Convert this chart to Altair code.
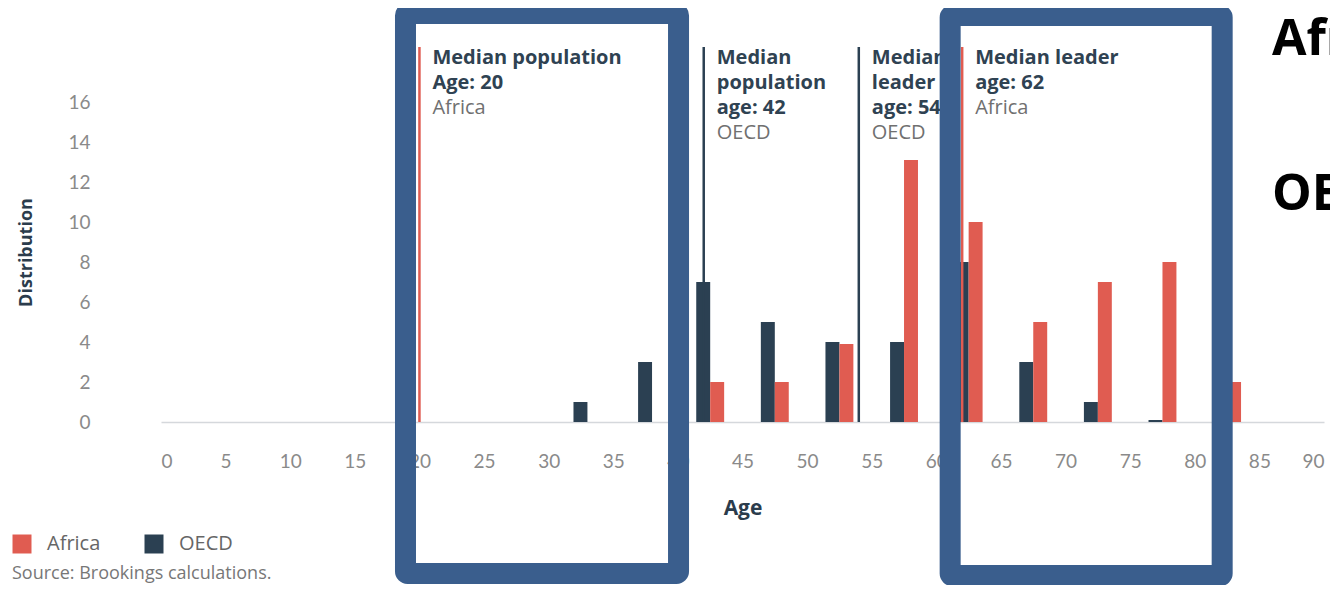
import altair as alt
import pandas as pd

# ---- data ----
bin_centres = [33.0, 38.0, 42.5, 47.5, 52.5, 57.5, 62.5, 67.5, 72.5, 77.5, 82.5]
oecd_values = [1, 3, 7, 5, 4, 4, 8, 3, 1, 0.1, 0]
africa_values = [0, 0, 2, 2, 3.9, 13.1, 10, 5, 7, 8, 2]

median_ages = [20, 42, 54, 62]
median_groups = ["Africa", "OECD", "OECD", "Africa"]
median_titles = [
    ["Median population", "Age: 20"],
    ["Median", "population", "age: 42"],
    ["Median", "leader", "age: 54"],
    ["Median leader", "age: 62"],
]

x_ticks = list(range(0, 95, 5))
y_ticks = list(range(0, 18, 2))

# highlight boxes (age / distribution units)
box_x1 = [18.92, 61.07]
box_x2 = [40.05, 82.12]
box_y1 = [-7.57, -7.68]
box_y2 = [20.43, 20.33]

AFRICA = "#e05c51"
OECD = "#2b4052"
BOX = "#3a5e8d"
FONT = "Open Sans"
TICKFONT = "Lato"

BAR_W = 1.08
rows = []
for c, o, a in zip(bin_centres, oecd_values, africa_values):
    rows.append({"group": "OECD", "x": c - BAR_W, "x2": c, "v": o})
    rows.append({"group": "Africa", "x": c, "x2": c + BAR_W, "v": a})
bars_df = pd.DataFrame(rows)

med_df = pd.DataFrame({"age": median_ages, "group": median_groups,
                       "top": [18.75] * 4, "bottom": [0] * 4})

LINE_TOP = 18.2
LINE_STEP = 1.25
txt_rows = []
for age, grp, lines in zip(median_ages, median_groups, median_titles):
    for i, t in enumerate(lines):
        txt_rows.append({"age": age, "y": LINE_TOP - i * LINE_STEP, "text": t, "kind": "bold"})
    txt_rows.append({"age": age, "y": LINE_TOP - len(lines) * LINE_STEP, "text": grp, "kind": "reg"})
txt_df = pd.DataFrame(txt_rows)

box_df = pd.DataFrame({"x1": box_x1, "x2": box_x2, "y1": box_y1, "y2": box_y2})

xscale = alt.Scale(domain=[0, 90], nice=False)
yscale = alt.Scale(domain=[0, 19], nice=False)
cscale = alt.Scale(domain=["Africa", "OECD"], range=[AFRICA, OECD])

bars = alt.Chart(bars_df).mark_bar().encode(
    x=alt.X("x:Q", scale=xscale, title="Age",
            axis=alt.Axis(values=x_ticks, grid=False, ticks=False, domain=True,
                          domainColor="#d5d8dc", domainWidth=1.5,
                          labelFont=TICKFONT, labelFontSize=19, labelColor="#8a8a8a",
                          labelPadding=30, titleFont=FONT, titleFontSize=21,
                          titleFontWeight="bold", titleColor="#2b3c4c", titlePadding=26)),
    x2="x2:Q",
    y=alt.Y("v:Q", scale=yscale, title="Distribution",
            axis=alt.Axis(values=y_ticks, grid=False, ticks=False, domain=False,
                          labelFont=TICKFONT, labelFontSize=19, labelColor="#8a8a8a",
                          labelPadding=71, titleFont=FONT, titleFontSize=18,
                          titleFontWeight="bold", titleColor="#2b3c4c",
                          titleX=-135, titleY=210, titleAngle=-90,
                          titleAlign="center", titleBaseline="middle")),
    y2=alt.datum(0),
    color=alt.Color("group:N", scale=cscale,
                    legend=alt.Legend(title=None, orient="none", legendX=-149, legendY=492,
                                      direction="horizontal", symbolType="square",
                                      symbolSize=361, symbolStrokeWidth=0,
                                      labelFont=FONT, labelFontSize=20, labelColor="#666666",
                                      labelOffset=15, columnPadding=43, padding=0)),
)

rules = alt.Chart(med_df).mark_rule(strokeWidth=2.5).encode(
    x=alt.X("age:Q", scale=xscale),
    y=alt.Y("top:Q", scale=yscale),
    y2="bottom:Q",
    color=alt.Color("group:N", scale=cscale, legend=None),
)

bold_txt = alt.Chart(txt_df).transform_filter(alt.datum.kind == "bold").mark_text(
    align="left", baseline="middle", dx=13, font=FONT, fontSize=20, fontWeight="bold",
    color="#2f4252"
).encode(x=alt.X("age:Q", scale=xscale), y=alt.Y("y:Q", scale=yscale), text="text:N")

reg_txt = alt.Chart(txt_df).transform_filter(alt.datum.kind == "reg").mark_text(
    align="left", baseline="middle", dx=13, font=FONT, fontSize=20, color="#707070"
).encode(x=alt.X("age:Q", scale=xscale), y=alt.Y("y:Q", scale=yscale), text="text:N")

boxes = alt.Chart(box_df).mark_rect(fill="transparent", stroke=BOX, strokeWidth=21,
                                    cornerRadius=2).encode(
    x=alt.X("x1:Q", scale=xscale), x2="x2:Q",
    y=alt.Y("y1:Q", scale=yscale), y2="y2:Q",
)

source = alt.Chart(pd.DataFrame({"t": ["Source: Brookings calculations."]})).mark_text(
    align="left", baseline="middle", font=FONT, fontSize=18, color="#777777"
).encode(x=alt.value(-149), y=alt.value(532), text="t:N")

side_a = alt.Chart(pd.DataFrame({"t": ["Afr"]})).mark_text(
    align="left", baseline="middle", font="Open Sans", fontSize=50, fontWeight="bold",
    color="#000000"
).encode(x=alt.value(1111), y=alt.value(-2), text="t:N")

side_o = alt.Chart(pd.DataFrame({"t": ["OE"]})).mark_text(
    align="left", baseline="middle", font="Open Sans", fontSize=50, fontWeight="bold",
    color="#000000"
).encode(x=alt.value(1111), y=alt.value(153), text="t:N")

chart = alt.layer(bars, rules, bold_txt, reg_txt, boxes, source, side_a, side_o).properties(
    width=1163, height=380,
    background="white",
    autosize=alt.AutoSizeParams(type="none"),
    padding={"left": 153, "top": 34, "right": 6, "bottom": 163},
).configure_view(strokeWidth=0, stroke="transparent")

chart.save("out.html", embed_options={"renderer": "svg", "actions": False})
